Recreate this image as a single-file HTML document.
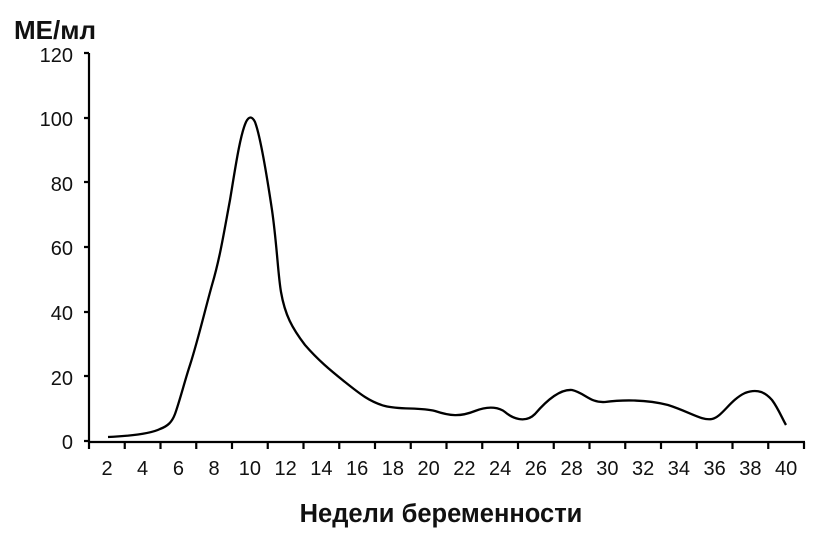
<!DOCTYPE html><html><head><style>body{margin:0;background:#fff}svg{display:block}text{font-family:"Liberation Sans",sans-serif;fill:#111}</style></head><body>
<svg width="824" height="535" viewBox="0 0 824 535">
<text x="14" y="39" font-size="26" font-weight="bold">МЕ/мл</text>
<g stroke="#000" stroke-width="2.2" fill="none">
<line x1="89" y1="53" x2="89" y2="442"/>
<line x1="88" y1="442" x2="805" y2="442"/>
<path d="M84 53H89M84 118H89M84 182H89M84 247H89M84 312H89M84 376H89M84 441H89"/>
<path d="M89 442v7M124.75 442v7M160.5 442v7M196.25 442v7M232 442v7M267.75 442v7M303.5 442v7M339.25 442v7M375 442v7M410.75 442v7M446.5 442v7M482.25 442v7M518 442v7M553.75 442v7M589.5 442v7M625.25 442v7M661 442v7M696.75 442v7M732.5 442v7M768.25 442v7M804 442v7"/>
<path stroke-width="2.3" stroke-linejoin="round" d="M108 437 C130 436,150 434,160 429 C168 426,172 422,175 414 C180 400,185 380,190 365 C198 340,205 310,212 285 C220 258,224 232,230 200 C235 170,240 135,246 122 C249 116,252 116,255 122 C260 135,266 170,272 210 C277 245,278 275,281 292 C285 315,292 328,305 345 C318 360,330 370,345 382 C360 394,370 402,385 406 C400 410,420 407,435 411 C450 416,460 417,475 411 C490 405,500 408,505 412 C512 418,525 424,535 414 C547 400,560 389,572 390 C585 393,590 403,605 402 C620 400,645 399,668 405 C690 412,702 421,712 419 C722 417,730 400,745 393 C758 388,766 393,772 400 C778 408,782 418,786 425"/>
</g>
<g font-size="20" text-anchor="end">
<text x="73" y="62">120</text><text x="73" y="126">100</text><text x="73" y="191">80</text><text x="73" y="255">60</text><text x="73" y="320">40</text><text x="73" y="385">20</text><text x="73" y="449">0</text>
</g>
<g font-size="20" text-anchor="middle">
<text x="107" y="475">2</text><text x="142.6" y="475">4</text><text x="178.4" y="475">6</text><text x="214.1" y="475">8</text><text x="249.9" y="475">10</text><text x="285.6" y="475">12</text><text x="321.4" y="475">14</text><text x="357.1" y="475">16</text><text x="392.9" y="475">18</text><text x="428.6" y="475">20</text><text x="464.4" y="475">22</text><text x="500.1" y="475">24</text><text x="535.9" y="475">26</text><text x="571.6" y="475">28</text><text x="607.4" y="475">30</text><text x="643.1" y="475">32</text><text x="678.9" y="475">34</text><text x="714.6" y="475">36</text><text x="750.4" y="475">38</text><text x="786.1" y="475">40</text>
</g>
<text x="441" y="522" font-size="25.5" font-weight="bold" text-anchor="middle">Недели беременности</text>
</svg></body></html>
